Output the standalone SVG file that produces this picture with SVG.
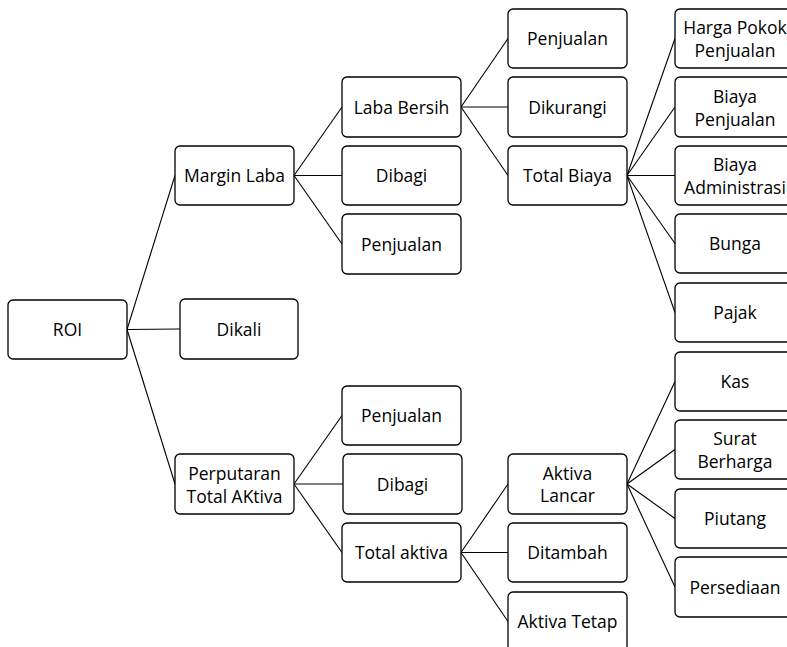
<svg xmlns="http://www.w3.org/2000/svg" width="787" height="647" viewBox="0 0 787 647">
<style>
.box{fill:#fff;stroke:#000;stroke-width:1.3}
text{font-family:"Open Sans","Liberation Sans",sans-serif;font-size:17.5px;fill:#000;text-anchor:middle}
.c line{stroke:#000;stroke-width:1.1}
</style>
<rect width="787" height="647" fill="#fff"/>
<g class="c" id="connectors">
<line x1="127" y1="329.5" x2="175" y2="175.5"/>
<line x1="127" y1="329.5" x2="180" y2="329"/>
<line x1="127" y1="329.5" x2="175" y2="484"/>
<line x1="294" y1="175.5" x2="342" y2="107"/>
<line x1="294" y1="175.5" x2="342" y2="175.5"/>
<line x1="294" y1="175.5" x2="342" y2="244"/>
<line x1="461" y1="107" x2="508" y2="38.5"/>
<line x1="461" y1="107" x2="508" y2="107"/>
<line x1="461" y1="107" x2="508" y2="175.5"/>
<line x1="627" y1="175.5" x2="675" y2="38.5"/>
<line x1="627" y1="175.5" x2="675" y2="107"/>
<line x1="627" y1="175.5" x2="675" y2="175.5"/>
<line x1="627" y1="175.5" x2="675" y2="243.5"/>
<line x1="627" y1="175.5" x2="675" y2="312.5"/>
<line x1="294" y1="484" x2="342" y2="415.5"/>
<line x1="294" y1="484" x2="343" y2="484"/>
<line x1="294" y1="484" x2="342" y2="552.5"/>
<line x1="461" y1="552.5" x2="508" y2="484"/>
<line x1="461" y1="552.5" x2="508" y2="552.5"/>
<line x1="461" y1="552.5" x2="508" y2="621.5"/>
<line x1="627" y1="484" x2="675" y2="381.5"/>
<line x1="627" y1="484" x2="675" y2="449.5"/>
<line x1="627" y1="484" x2="675" y2="518.5"/>
<line x1="627" y1="484" x2="675" y2="587"/>
</g>
<g id="roi"><rect class="box" x="8" y="300" width="119" height="59" rx="5"/><text x="67.5" y="336">ROI</text></g>
<g id="dikali"><rect class="box" x="180" y="299" width="118" height="60" rx="5"/><text x="239" y="335.5">Dikali</text></g>
<g id="margin-laba"><rect class="box" x="175" y="146" width="119" height="59" rx="5"/><text x="234.5" y="182">Margin Laba</text></g>
<g id="perputaran"><rect class="box" x="175" y="454" width="119" height="60" rx="5"/><text x="234.5" y="479.5">Perputaran</text><text x="234.5" y="502.5">Total AKtiva</text></g>
<g id="laba-bersih"><rect class="box" x="342" y="77" width="119" height="60" rx="5"/><text x="401.5" y="113.5">Laba Bersih</text></g>
<g id="dibagi-1"><rect class="box" x="342" y="146" width="119" height="59" rx="5"/><text x="401.5" y="182">Dibagi</text></g>
<g id="penjualan-1"><rect class="box" x="342" y="214" width="119" height="60" rx="5"/><text x="401.5" y="250.5">Penjualan</text></g>
<g id="penjualan-2"><rect class="box" x="342" y="386" width="119" height="59" rx="5"/><text x="401.5" y="422">Penjualan</text></g>
<g id="dibagi-2"><rect class="box" x="343" y="454" width="119" height="60" rx="5"/><text x="402.5" y="490.5">Dibagi</text></g>
<g id="total-aktiva"><rect class="box" x="342" y="523" width="119" height="59" rx="5"/><text x="401.5" y="559">Total aktiva</text></g>
<g id="penjualan-3"><rect class="box" x="508" y="9" width="119" height="59" rx="5"/><text x="567.5" y="45">Penjualan</text></g>
<g id="dikurangi"><rect class="box" x="508" y="77" width="119" height="60" rx="5"/><text x="567.5" y="113.5">Dikurangi</text></g>
<g id="total-biaya"><rect class="box" x="508" y="146" width="119" height="59" rx="5"/><text x="567.5" y="182">Total Biaya</text></g>
<g id="aktiva-lancar"><rect class="box" x="508" y="454" width="119" height="60" rx="5"/><text x="567.5" y="479.5">Aktiva</text><text x="567.5" y="502">Lancar</text></g>
<g id="ditambah"><rect class="box" x="508" y="523" width="119" height="59" rx="5"/><text x="567.5" y="559">Ditambah</text></g>
<g id="aktiva-tetap"><rect class="box" x="508" y="592" width="119" height="59" rx="5"/><text x="567.5" y="628">Aktiva Tetap</text></g>
<g id="hpp"><rect class="box" x="675" y="9" width="120" height="59" rx="5"/><text x="735" y="34">Harga Pokok</text><text x="735" y="57">Penjualan</text></g>
<g id="biaya-penjualan"><rect class="box" x="675" y="77" width="120" height="60" rx="5"/><text x="735" y="102.5">Biaya</text><text x="735" y="125.5">Penjualan</text></g>
<g id="biaya-admin"><rect class="box" x="675" y="146" width="120" height="59" rx="5"/><text x="735" y="171">Biaya</text><text x="735" y="194">Administrasi</text></g>
<g id="bunga"><rect class="box" x="675" y="214" width="120" height="59" rx="5"/><text x="735" y="250">Bunga</text></g>
<g id="pajak"><rect class="box" x="675" y="283" width="120" height="59" rx="5"/><text x="735" y="319">Pajak</text></g>
<g id="kas"><rect class="box" x="675" y="352" width="120" height="59" rx="5"/><text x="735" y="388">Kas</text></g>
<g id="surat-berharga"><rect class="box" x="675" y="420" width="120" height="59" rx="5"/><text x="735" y="445">Surat</text><text x="735" y="468">Berharga</text></g>
<g id="piutang"><rect class="box" x="675" y="489" width="120" height="59" rx="5"/><text x="735" y="525">Piutang</text></g>
<g id="persediaan"><rect class="box" x="675" y="557" width="120" height="60" rx="5"/><text x="735" y="593.5">Persediaan</text></g>
</svg>
